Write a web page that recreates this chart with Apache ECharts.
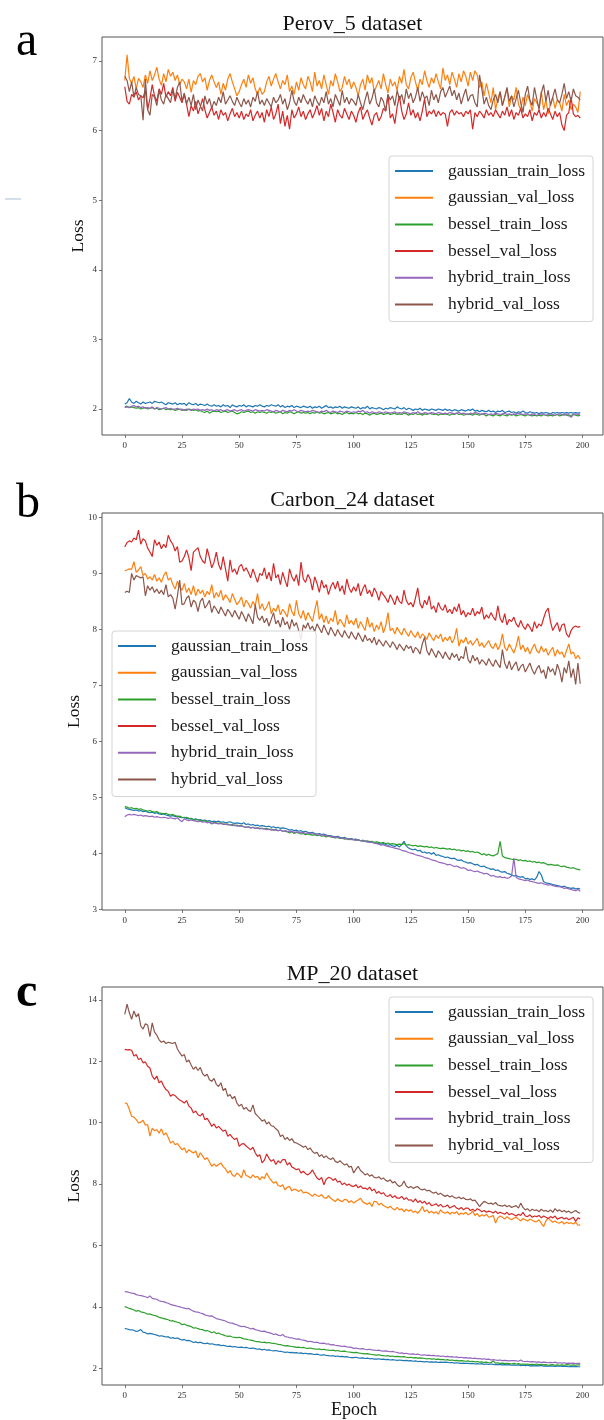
<!DOCTYPE html>
<html><head><meta charset="utf-8">
<script src="https://cdn.jsdelivr.net/npm/echarts@6/dist/echarts.min.js"></script>
<style>html,body{margin:0;padding:0;background:#fff}#c{width:604px;height:1420px}</style>
</head><body><div id="c"></div>
<script>
const seriesNames = ['gaussian_train_loss','gaussian_val_loss','bessel_train_loss','bessel_val_loss','hybrid_train_loss','hybrid_val_loss'];
const seriesColors = ['#1f77b4','#ff7f0e','#2ca02c','#d62728','#9467bd','#8c564b'];
const panelTitles = ['Perov_5 dataset','Carbon_24 dataset','MP_20 dataset'];
const panelLetters = ['a','b','c'];
const xTicks = [0,25,50,75,100,125,150,175,200];
const yTicksA = [2,3,4,5,6,7];
const yTicksB = [3,4,5,6,7,8,9,10];
const yTicksC = [2,4,6,8,10,12,14];
const epochs = Array.from({length:200},(_,i)=>i);

// ---- Panel a : Perov_5 ----
const A_gt = [
2.07,2.09,2.15,2.10,2.08,2.11,2.09,2.07,2.10,2.08,2.09,2.10,2.08,2.11,2.10,2.09,2.10,2.08,2.06,2.09,
2.08,2.07,2.09,2.06,2.08,2.07,2.08,2.05,2.09,2.07,2.06,2.08,2.05,2.07,2.06,2.05,2.07,2.05,2.04,2.06,
2.04,2.05,2.03,2.06,2.04,2.05,2.02,2.06,2.04,2.03,2.05,2.04,2.06,2.03,2.05,2.04,2.03,2.05,2.04,2.06,
2.04,2.03,2.05,2.04,2.06,2.05,2.04,2.06,2.03,2.05,2.02,2.04,2.03,2.05,2.02,2.04,2.03,2.02,2.04,2.03,
2.02,2.04,2.01,2.03,2.02,2.04,2.01,2.03,2.05,2.02,2.03,2.01,2.03,2.02,2.04,2.01,2.03,2.02,2.01,2.03,
2.02,2.01,2.03,2.00,2.02,2.01,2.04,2.00,2.02,2.01,2.00,2.02,2.01,1.99,2.01,2.00,2.02,2.01,2.00,2.03,
2.01,2.00,2.02,1.99,2.01,2.00,1.98,2.00,1.99,2.01,1.98,2.00,1.99,1.98,2.00,1.99,1.98,2.00,1.99,1.98,
2.00,1.98,1.99,1.97,1.99,1.98,1.97,1.99,1.98,1.97,1.99,1.98,2.00,1.97,1.98,1.96,1.98,1.97,1.96,1.98,
1.96,1.97,1.95,1.97,1.96,1.98,1.95,1.96,1.97,1.95,1.96,1.94,1.96,1.95,1.97,1.95,1.94,1.96,1.95,1.94,
1.95,1.93,1.95,1.94,1.95,1.94,1.93,1.95,1.94,1.95,1.94,1.95,1.94,1.95,1.94,1.95,1.94,1.95,1.94,1.95];
const A_gv = [
6.72,7.09,6.75,6.68,6.78,6.60,6.75,6.70,6.62,6.80,6.68,6.86,6.72,6.80,6.91,6.74,6.65,6.82,6.70,6.88,
6.78,6.84,6.72,6.80,6.66,6.74,6.70,6.60,6.74,6.55,6.72,6.66,6.78,6.82,6.70,6.76,6.58,6.72,6.80,6.70,
6.62,6.70,6.52,6.68,6.58,6.74,6.82,6.70,6.60,6.50,6.56,6.66,6.74,6.62,6.80,6.68,6.76,6.60,6.52,6.62,
6.52,6.56,6.70,6.78,6.64,6.74,6.82,6.70,6.60,6.72,6.66,6.80,6.56,6.64,6.52,6.70,6.58,6.76,6.66,6.60,
6.78,6.70,6.56,6.84,6.64,6.72,6.60,6.80,6.66,6.52,6.72,6.64,6.82,6.70,6.56,6.62,6.78,6.66,6.74,6.60,
6.70,6.62,6.50,6.66,6.74,6.58,6.80,6.68,6.76,6.56,6.64,6.72,6.60,6.82,6.66,6.54,6.74,6.64,6.70,6.58,
6.78,6.68,6.88,6.66,6.60,6.76,6.84,6.70,6.58,6.74,6.66,6.86,6.72,6.62,6.76,6.68,6.82,6.70,6.60,6.90,
6.72,6.80,6.66,6.84,6.74,6.62,6.82,6.70,6.86,6.78,6.64,6.84,6.72,6.86,6.80,6.62,6.70,6.50,6.68,6.54,
6.40,6.62,6.30,6.46,6.56,6.36,6.48,6.60,6.34,6.50,6.44,6.62,6.38,6.30,6.48,6.36,6.52,6.42,6.28,6.46,
6.40,6.34,6.56,6.30,6.44,6.24,6.38,6.48,6.32,6.44,6.40,6.28,6.52,6.36,6.44,6.30,6.38,6.34,6.26,6.56];
const A_bt = [
2.03,2.04,2.02,2.03,2.02,2.01,2.02,2.00,2.01,2.02,2.00,2.01,2.02,2.00,2.01,1.99,2.00,2.01,1.99,2.00,
1.99,2.00,1.98,1.99,2.00,1.98,1.99,1.98,2.00,1.99,1.98,1.99,1.97,1.98,1.96,1.95,1.97,1.94,1.96,1.97,
1.96,1.97,1.95,1.96,1.97,1.95,1.96,1.97,1.95,1.93,1.94,1.96,1.95,1.96,1.97,1.95,1.96,1.94,1.96,1.95,
1.96,1.95,1.94,1.96,1.95,1.96,1.94,1.95,1.96,1.93,1.95,1.94,1.96,1.95,1.93,1.95,1.96,1.94,1.95,1.94,
1.95,1.93,1.95,1.94,1.96,1.94,1.95,1.93,1.94,1.95,1.93,1.94,1.95,1.93,1.94,1.92,1.94,1.95,1.93,1.94,
1.93,1.95,1.93,1.94,1.92,1.94,1.93,1.91,1.93,1.94,1.92,1.93,1.94,1.92,1.93,1.94,1.92,1.93,1.94,1.92,
1.93,1.92,1.94,1.93,1.91,1.93,1.92,1.94,1.92,1.93,1.91,1.93,1.92,1.94,1.93,1.92,1.93,1.91,1.93,1.92,
1.93,1.92,1.91,1.93,1.92,1.94,1.92,1.93,1.91,1.92,1.93,1.92,1.91,1.93,1.92,1.91,1.93,1.92,1.90,1.92,
1.91,1.90,1.92,1.91,1.90,1.92,1.91,1.90,1.92,1.91,1.92,1.90,1.91,1.92,1.91,1.90,1.92,1.91,1.90,1.91,
1.90,1.91,1.90,1.92,1.91,1.90,1.91,1.90,1.91,1.92,1.90,1.91,1.92,1.91,1.90,1.91,1.92,1.91,1.90,1.91];
const A_bv = [
6.63,6.42,6.38,6.52,6.48,6.56,6.44,6.50,6.47,6.58,6.30,6.46,6.66,6.50,6.42,6.60,6.52,6.68,6.48,6.56,
6.50,6.62,6.42,6.55,6.48,6.40,6.52,6.38,6.20,6.36,6.28,6.42,6.24,6.34,6.46,6.30,6.18,6.26,6.34,6.22,
6.28,6.16,6.30,6.22,6.26,6.14,6.24,6.32,6.20,6.26,6.18,6.28,6.16,6.24,6.20,6.30,6.14,6.22,6.28,6.18,
6.26,6.12,6.30,6.20,6.34,6.16,6.24,6.38,6.10,6.28,6.06,6.22,6.02,6.30,6.18,6.24,6.34,6.20,6.28,6.16,
6.24,6.30,6.18,6.26,6.36,6.22,6.32,6.14,6.28,6.20,6.38,6.26,6.12,6.30,6.22,6.18,6.32,6.24,6.16,6.28,
6.22,6.12,6.26,6.34,6.16,6.24,6.30,6.18,6.08,6.22,6.26,6.14,6.20,6.32,6.28,6.52,6.18,6.24,6.10,6.34,
6.50,6.28,6.16,6.24,6.40,6.22,6.30,6.18,6.26,6.14,6.28,6.46,6.20,6.28,6.24,6.30,6.20,6.28,6.22,6.26,
6.24,6.06,6.26,6.30,6.22,6.28,6.24,6.26,6.20,6.28,6.24,6.30,6.02,6.26,6.20,6.28,6.24,6.18,6.30,6.22,
6.26,6.20,6.30,6.24,6.18,6.28,6.22,6.34,6.20,6.30,6.16,6.26,6.22,6.32,6.18,6.24,6.20,6.30,6.14,6.26,
6.22,6.30,6.18,6.26,6.20,6.32,6.24,6.16,6.28,6.20,6.26,6.08,6.00,6.22,6.26,6.48,6.24,6.20,6.22,6.18];
const A_ht = [
2.02,2.03,2.02,2.04,2.05,2.03,2.04,2.02,2.03,2.01,2.02,2.01,2.03,2.00,2.02,2.01,2.00,2.01,2.02,2.00,
2.01,1.99,2.00,2.01,1.99,2.00,1.98,2.00,1.99,1.98,2.00,1.99,2.00,1.98,1.99,1.98,2.00,1.98,1.99,1.97,
1.99,1.98,1.99,1.97,1.98,1.99,1.97,1.98,1.99,1.97,1.98,1.99,1.97,1.98,1.99,1.98,1.97,1.99,1.98,1.97,
1.98,1.97,1.99,1.98,1.97,1.96,1.98,1.97,1.96,1.98,1.97,1.96,1.98,1.97,1.99,1.97,1.96,1.98,1.97,1.96,
1.97,1.96,1.98,1.97,1.96,1.95,1.97,1.96,1.98,1.96,1.95,1.97,1.96,1.95,1.97,1.96,1.95,1.97,1.96,1.95,
1.96,1.95,1.97,1.96,1.98,1.95,1.96,1.94,1.96,1.95,1.94,1.96,1.95,1.94,1.96,1.95,1.94,1.95,1.96,1.94,
1.95,1.94,1.96,1.95,1.94,1.93,1.95,1.94,1.96,1.94,1.93,1.95,1.94,1.93,1.95,1.94,1.93,1.95,1.94,1.93,
1.94,1.93,1.95,1.94,1.93,1.94,1.95,1.93,1.94,1.93,1.92,1.94,1.93,1.95,1.94,1.93,1.92,1.94,1.93,1.92,
1.93,1.92,1.94,1.93,1.92,1.93,1.94,1.92,1.93,1.92,1.93,1.92,1.94,1.93,1.92,1.93,1.92,1.91,1.93,1.92,
1.91,1.92,1.93,1.92,1.91,1.92,1.93,1.92,1.91,1.92,1.93,1.92,1.91,1.93,1.92,1.88,1.92,1.93,1.92,1.93];
const A_hv = [
6.78,6.72,6.56,6.70,6.48,6.62,6.52,6.50,6.15,6.74,6.30,6.22,6.52,6.48,6.36,6.58,6.44,6.38,6.52,6.46,
6.40,6.58,6.46,6.62,6.70,6.42,6.54,6.38,6.48,6.36,6.52,6.30,6.44,6.36,6.28,6.50,6.38,6.46,6.32,6.42,
6.36,6.48,6.40,6.56,6.38,6.44,6.50,6.42,6.36,6.48,6.40,6.34,6.46,6.38,6.44,6.34,6.48,6.42,6.56,6.38,
6.44,6.36,6.46,6.40,6.34,6.48,6.40,6.44,6.52,6.38,6.46,6.30,6.40,6.58,6.42,6.36,6.48,6.40,6.52,6.44,
6.38,6.46,6.34,6.50,6.42,6.36,6.48,6.40,6.56,6.38,6.46,6.34,6.52,6.44,6.36,6.58,6.40,6.48,6.38,6.46,
6.42,6.36,6.52,6.40,6.30,6.44,6.56,6.38,6.46,6.60,6.40,6.34,6.48,6.42,6.28,6.52,6.44,6.50,6.36,6.58,
6.44,6.52,6.38,6.60,6.46,6.54,6.40,6.48,6.62,6.42,6.56,6.46,6.50,6.36,6.58,6.44,6.52,6.40,6.56,6.62,
6.48,6.56,6.64,6.50,6.58,6.44,6.54,6.38,6.50,6.60,6.42,6.50,6.52,6.40,6.34,6.80,6.60,6.38,6.48,6.36,
6.30,6.44,6.52,6.40,6.56,6.36,6.48,6.62,6.42,6.50,6.34,6.46,6.58,6.40,6.26,6.52,6.64,6.44,6.36,6.62,
6.46,6.30,6.54,6.66,6.42,6.58,6.36,6.48,6.60,6.44,6.40,6.52,6.68,6.46,6.56,6.42,6.60,6.50,6.48,6.44];

// ---- Panel b : Carbon_24 ----
const B_gt = [
4.82,4.80,4.79,4.78,4.77,4.78,4.76,4.77,4.75,4.76,4.74,4.73,4.74,4.72,4.73,4.71,4.70,4.71,4.69,4.68,
4.67,4.68,4.66,4.67,4.65,4.64,4.65,4.63,4.62,4.63,4.61,4.62,4.60,4.61,4.59,4.60,4.58,4.59,4.57,4.58,
4.57,4.58,4.56,4.57,4.55,4.56,4.57,4.55,4.54,4.55,4.54,4.53,4.55,4.52,4.53,4.51,4.52,4.50,4.51,4.49,
4.50,4.49,4.48,4.49,4.47,4.48,4.46,4.47,4.45,4.46,4.45,4.44,4.42,4.43,4.41,4.42,4.40,4.41,4.39,4.40,
4.38,4.37,4.38,4.36,4.35,4.36,4.34,4.35,4.33,4.32,4.32,4.31,4.30,4.31,4.29,4.28,4.29,4.27,4.26,4.27,
4.25,4.26,4.24,4.23,4.24,4.22,4.21,4.22,4.20,4.19,4.19,4.18,4.17,4.18,4.16,4.15,4.16,4.14,4.13,4.15,
4.12,4.16,4.22,4.14,4.10,4.08,4.07,4.08,4.05,4.06,4.02,4.03,4.01,4.02,3.99,4.02,3.97,3.98,3.96,3.95,
3.93,3.94,3.92,3.91,3.92,3.89,3.88,3.89,3.86,3.85,3.83,3.84,3.82,3.80,3.81,3.78,3.77,3.78,3.75,3.74,
3.72,3.73,3.70,3.71,3.68,3.67,3.68,3.65,3.64,3.62,3.60,3.61,3.59,3.58,3.59,3.55,3.56,3.54,3.55,3.53,
3.58,3.68,3.62,3.50,3.48,3.47,3.46,3.45,3.44,3.43,3.42,3.41,3.42,3.40,3.39,3.38,3.39,3.37,3.38,3.37];
const B_gv = [
9.05,9.06,9.08,9.07,9.21,9.02,9.06,9.12,8.96,9.00,8.90,8.94,8.88,8.98,8.86,8.92,8.84,8.96,9.03,8.88,
8.92,8.80,8.72,8.86,8.76,8.70,8.82,8.66,8.74,8.62,8.78,8.60,8.72,8.64,8.70,8.58,8.68,8.62,8.80,8.56,
8.66,8.58,8.70,8.52,8.62,8.56,8.48,8.64,8.54,8.44,8.50,8.58,8.40,8.52,8.46,8.38,8.50,8.42,8.64,8.36,
8.46,8.34,8.40,8.50,8.28,8.38,8.32,8.44,8.26,8.36,8.30,8.22,8.46,8.32,8.24,8.52,8.28,8.20,8.34,8.16,
8.30,8.22,8.14,8.34,8.52,8.18,8.28,8.12,8.24,8.10,8.20,8.14,8.34,8.08,8.18,8.12,8.04,8.26,8.10,8.16,
8.08,8.20,8.02,8.14,8.06,7.98,8.22,8.04,8.12,7.96,8.08,8.00,8.14,7.94,8.06,8.30,7.98,8.02,7.92,8.04,
7.96,7.90,8.02,7.94,7.88,7.98,7.90,7.86,7.96,7.84,7.92,7.88,7.82,7.94,7.86,7.80,7.90,7.84,7.92,7.78,
7.86,7.80,7.88,7.76,7.84,8.02,7.70,7.82,7.76,7.86,7.74,7.80,7.72,7.78,7.84,7.70,7.76,7.68,7.74,7.80,
7.70,7.66,7.76,7.64,7.72,7.92,7.68,7.62,7.74,7.66,7.58,7.70,7.88,7.64,7.72,7.60,7.68,7.56,7.66,7.74,
7.62,7.58,7.70,7.60,7.66,7.54,7.62,7.68,7.52,7.64,7.56,7.60,7.50,7.62,7.74,7.56,7.60,7.48,7.54,7.47];
const B_bt = [
4.84,4.83,4.81,4.82,4.80,4.81,4.79,4.80,4.78,4.77,4.76,4.77,4.75,4.74,4.75,4.73,4.72,4.71,4.72,4.70,
4.69,4.70,4.68,4.66,4.67,4.65,4.64,4.65,4.63,4.62,4.61,4.60,4.61,4.59,4.58,4.59,4.57,4.56,4.53,4.56,
4.55,4.54,4.55,4.53,4.52,4.53,4.51,4.52,4.50,4.51,4.49,4.50,4.48,4.47,4.48,4.46,4.47,4.45,4.46,4.45,
4.45,4.44,4.45,4.43,4.44,4.42,4.43,4.41,4.42,4.40,4.40,4.39,4.37,4.39,4.36,4.38,4.37,4.35,4.36,4.34,
4.35,4.34,4.33,4.34,4.32,4.33,4.31,4.32,4.30,4.31,4.30,4.29,4.28,4.29,4.27,4.28,4.26,4.27,4.25,4.26,
4.25,4.24,4.25,4.23,4.24,4.22,4.23,4.21,4.22,4.20,4.21,4.20,4.19,4.20,4.18,4.19,4.17,4.18,4.17,4.16,
4.17,4.16,4.18,4.15,4.16,4.15,4.14,4.15,4.13,4.14,4.13,4.12,4.13,4.11,4.12,4.10,4.11,4.10,4.09,4.10,
4.09,4.08,4.09,4.07,4.08,4.06,4.07,4.05,4.06,4.04,4.05,4.03,4.04,4.02,4.03,4.01,3.98,4.00,3.97,3.99,
3.97,3.96,3.98,4.00,4.22,3.96,3.93,3.92,3.91,3.90,3.89,3.90,3.88,3.89,3.87,3.88,3.86,3.87,3.85,3.86,
3.84,3.85,3.83,3.84,3.82,3.80,3.81,3.80,3.79,3.80,3.78,3.77,3.78,3.76,3.75,3.74,3.75,3.73,3.72,3.71];
const B_bv = [
9.47,9.55,9.58,9.56,9.63,9.60,9.77,9.52,9.62,9.58,9.45,9.38,9.30,9.60,9.50,9.56,9.44,9.52,9.46,9.68,
9.58,9.52,9.40,9.48,9.20,9.22,9.30,9.42,9.28,9.05,9.38,9.42,9.46,9.30,9.22,9.18,9.44,9.28,9.10,9.20,
9.38,9.16,9.06,9.30,9.08,8.86,9.24,9.02,9.08,8.98,9.12,9.16,9.04,9.10,9.02,8.92,9.08,8.96,8.84,9.00,
8.96,9.10,8.90,9.02,8.86,9.18,8.92,8.98,8.80,9.02,8.88,8.76,9.08,8.94,8.86,8.98,8.78,9.20,8.90,8.84,
8.98,8.90,8.70,8.94,8.82,8.66,8.88,8.74,8.80,8.62,8.76,8.84,8.72,8.86,8.68,8.78,8.62,8.90,8.74,8.66,
8.76,8.68,8.82,8.60,8.72,8.80,8.64,8.70,8.58,8.74,8.66,8.52,8.68,8.62,8.56,8.48,8.62,8.54,8.44,8.60,
8.50,8.46,8.70,8.52,8.44,8.48,8.40,8.56,8.74,8.46,8.38,8.52,8.44,8.60,8.36,8.42,8.30,8.48,8.38,8.34,
8.44,8.30,8.36,8.28,8.40,8.32,8.46,8.26,8.34,8.22,8.30,8.26,8.38,8.24,8.32,8.28,8.40,8.18,8.26,8.20,
8.30,8.22,8.16,8.42,8.20,8.12,8.28,8.08,8.18,8.14,8.22,8.10,8.04,8.16,8.06,8.00,8.10,8.04,7.96,8.14,
8.02,8.10,8.06,8.20,8.32,8.38,8.14,7.98,8.06,8.12,7.96,8.08,8.10,7.92,7.86,7.98,8.04,8.06,8.04,8.05];
const B_ht = [
4.66,4.69,4.70,4.69,4.70,4.69,4.68,4.69,4.67,4.68,4.67,4.66,4.67,4.65,4.66,4.65,4.64,4.65,4.64,4.63,
4.64,4.63,4.62,4.64,4.60,4.57,4.62,4.60,4.59,4.60,4.59,4.58,4.57,4.58,4.56,4.57,4.55,4.56,4.54,4.55,
4.54,4.53,4.54,4.52,4.53,4.51,4.52,4.50,4.51,4.49,4.50,4.49,4.48,4.47,4.48,4.46,4.47,4.45,4.46,4.44,
4.45,4.44,4.43,4.44,4.42,4.43,4.42,4.41,4.42,4.40,4.41,4.40,4.39,4.40,4.38,4.39,4.38,4.37,4.38,4.36,
4.37,4.36,4.35,4.36,4.34,4.33,4.34,4.32,4.33,4.31,4.31,4.30,4.29,4.30,4.28,4.27,4.28,4.26,4.27,4.25,
4.25,4.24,4.25,4.23,4.22,4.23,4.21,4.20,4.21,4.19,4.18,4.17,4.15,4.16,4.14,4.13,4.12,4.11,4.10,4.09,
4.08,4.06,4.05,4.04,4.02,4.01,4.00,3.98,3.97,3.96,3.95,3.93,3.92,3.91,3.89,3.88,3.87,3.85,3.84,3.83,
3.82,3.80,3.81,3.79,3.77,3.78,3.76,3.74,3.75,3.73,3.70,3.71,3.69,3.68,3.69,3.67,3.66,3.64,3.65,3.63,
3.60,3.61,3.59,3.58,3.59,3.57,3.58,3.56,3.57,3.60,3.92,3.58,3.55,3.54,3.53,3.52,3.53,3.51,3.50,3.49,
3.48,3.47,3.48,3.46,3.45,3.44,3.45,3.43,3.42,3.41,3.41,3.40,3.38,3.39,3.37,3.36,3.35,3.34,3.36,3.33];
const B_hv = [
8.66,8.68,8.66,9.00,8.88,8.96,8.94,8.92,8.94,8.60,8.78,8.70,8.76,8.66,8.72,8.64,8.70,8.62,8.80,8.58,
8.62,8.56,8.36,8.60,8.88,8.44,8.46,8.56,8.60,8.40,8.52,8.48,8.32,8.50,8.56,8.38,8.44,8.52,8.30,8.42,
8.36,8.28,8.40,8.32,8.24,8.36,8.30,8.22,8.34,8.26,8.18,8.32,8.24,8.14,8.28,8.20,8.10,8.44,8.22,8.16,
8.24,8.12,8.20,8.06,8.18,8.30,8.10,8.16,8.04,8.22,8.08,8.14,8.00,8.18,8.06,8.12,7.98,7.82,8.08,8.02,
8.12,8.00,8.06,7.96,8.10,8.02,7.94,8.08,7.98,7.90,8.04,7.96,7.88,8.00,7.92,7.86,7.98,7.90,7.84,7.96,
7.88,7.82,7.94,7.86,7.78,7.90,7.80,7.84,7.76,7.86,7.72,7.82,7.76,7.70,7.80,7.74,7.68,7.78,7.72,7.64,
7.74,7.68,7.62,7.72,7.66,7.70,7.58,7.68,7.64,7.56,7.74,7.86,7.62,7.54,7.66,7.58,7.50,7.62,7.56,7.48,
7.60,7.52,7.46,7.58,7.50,7.56,7.44,7.52,7.48,7.70,7.46,7.40,7.54,7.44,7.50,7.38,7.46,7.42,7.36,7.48,
7.40,7.34,7.46,7.38,7.32,7.64,7.40,7.30,7.44,7.28,7.36,7.42,7.26,7.34,7.38,7.24,7.32,7.40,7.28,7.20,
7.30,7.36,7.22,7.28,7.12,7.34,7.24,7.30,7.18,7.38,7.26,7.06,7.32,7.22,7.44,7.14,7.30,7.02,7.40,7.03];

// ---- Panel c : MP_20 ----
const C_gt = [
3.30,3.28,3.26,3.25,3.24,3.20,3.22,3.26,3.18,3.16,3.12,3.14,3.12,3.10,3.08,3.05,3.06,3.04,3.02,3.03,
2.98,3.00,2.97,2.99,2.95,2.92,2.94,2.90,2.91,2.88,2.84,2.86,2.83,2.85,2.82,2.80,2.82,2.79,2.80,2.78,
2.76,2.77,2.74,2.75,2.73,2.71,2.72,2.70,2.71,2.69,2.68,2.69,2.67,2.68,2.66,2.65,2.66,2.64,2.62,2.63,
2.60,2.62,2.59,2.60,2.58,2.57,2.58,2.56,2.55,2.54,2.52,2.53,2.51,2.52,2.50,2.51,2.49,2.50,2.48,2.49,
2.47,2.48,2.46,2.45,2.46,2.44,2.43,2.44,2.42,2.41,2.40,2.41,2.39,2.40,2.38,2.39,2.37,2.38,2.36,2.35,
2.35,2.36,2.34,2.33,2.34,2.32,2.33,2.31,2.32,2.30,2.30,2.31,2.29,2.30,2.28,2.29,2.27,2.28,2.27,2.26,
2.27,2.26,2.25,2.26,2.24,2.25,2.23,2.24,2.22,2.23,2.22,2.21,2.22,2.20,2.21,2.20,2.21,2.19,2.20,2.19,
2.20,2.19,2.18,2.19,2.17,2.18,2.17,2.16,2.17,2.16,2.16,2.15,2.16,2.14,2.15,2.14,2.15,2.13,2.14,2.13,
2.14,2.13,2.12,2.13,2.12,2.11,2.12,2.11,2.12,2.10,2.11,2.10,2.11,2.09,2.10,2.09,2.10,2.08,2.09,2.08,
2.09,2.08,2.09,2.07,2.08,2.07,2.08,2.07,2.06,2.07,2.08,2.06,2.07,2.06,2.05,2.06,2.05,2.06,2.05,2.05];
const C_gv = [
10.65,10.62,10.43,10.21,10.18,10.10,9.99,10.02,10.08,9.92,9.94,9.56,9.82,9.74,9.78,9.66,9.80,9.60,9.67,9.52,
9.34,9.40,9.28,9.32,9.22,9.12,9.18,9.02,9.12,9.06,9.01,9.08,8.86,9.02,8.92,8.80,8.86,8.72,8.58,8.66,
8.58,8.64,8.69,8.56,8.50,8.36,8.44,8.30,8.25,8.36,8.30,8.20,8.47,8.28,8.25,8.20,8.30,8.22,8.25,8.14,
8.24,8.18,8.36,8.22,8.12,8.03,8.08,7.96,7.92,7.98,7.81,7.90,7.92,7.78,7.84,7.81,7.76,7.82,7.71,7.74,
7.71,7.66,7.60,7.68,7.62,7.60,7.66,7.56,7.54,7.62,7.54,7.48,7.43,7.52,7.46,7.43,7.50,7.49,7.40,7.46,
7.38,7.44,7.48,7.54,7.42,7.38,7.34,7.40,7.27,7.44,7.42,7.32,7.38,7.30,7.26,7.22,7.28,7.20,7.16,7.24,
7.16,7.20,7.10,7.18,7.12,7.16,7.08,7.12,7.05,7.14,7.27,7.10,7.16,7.06,7.12,7.05,7.10,7.02,7.16,7.08,
7.05,7.10,7.02,7.08,7.04,7.10,7.00,7.06,7.02,7.08,7.00,7.04,7.12,6.98,7.04,6.94,7.00,6.96,7.02,6.92,
6.94,6.98,6.73,6.90,6.96,6.92,6.86,6.94,6.88,6.84,6.89,6.92,6.86,6.80,6.88,6.84,6.80,6.86,6.82,6.78,
6.78,6.84,6.72,6.62,6.80,6.89,6.82,6.76,6.80,6.74,6.73,6.78,6.70,6.76,6.72,6.74,6.70,6.76,6.66,6.67];
const C_bt = [
4.01,3.98,3.95,3.93,3.90,3.86,3.88,3.84,3.82,3.80,3.76,3.77,3.74,3.72,3.70,3.66,3.64,3.62,3.60,3.58,
3.54,3.55,3.52,3.50,3.48,3.42,3.44,3.40,3.38,3.36,3.31,3.32,3.29,3.27,3.26,3.22,3.23,3.20,3.16,3.19,
3.13,3.15,3.11,3.09,3.06,3.04,3.05,3.02,3.01,3.00,3.01,2.99,2.96,2.95,2.93,2.92,2.90,2.88,2.87,2.86,
2.84,2.85,2.83,2.84,2.82,2.81,2.80,2.78,2.77,2.75,2.73,2.74,2.72,2.71,2.70,2.68,2.69,2.67,2.68,2.66,
2.65,2.66,2.64,2.63,2.62,2.63,2.61,2.62,2.60,2.59,2.58,2.59,2.57,2.58,2.56,2.55,2.56,2.54,2.53,2.52,
2.51,2.52,2.50,2.49,2.48,2.47,2.48,2.46,2.45,2.44,2.43,2.44,2.42,2.41,2.40,2.41,2.39,2.40,2.38,2.39,
2.38,2.37,2.38,2.36,2.35,2.36,2.34,2.35,2.33,2.34,2.33,2.32,2.31,2.32,2.30,2.31,2.29,2.30,2.28,2.29,
2.27,2.28,2.26,2.27,2.25,2.26,2.24,2.25,2.24,2.23,2.24,2.22,2.23,2.21,2.22,2.20,2.21,2.19,2.20,2.18,
2.18,2.24,2.17,2.18,2.16,2.17,2.15,2.16,2.15,2.14,2.16,2.14,2.15,2.13,2.14,2.13,2.14,2.12,2.13,2.12,
2.14,2.12,2.13,2.11,2.12,2.10,2.11,2.12,2.10,2.11,2.10,2.11,2.10,2.12,2.11,2.10,2.11,2.10,2.11,2.11];
const C_bv = [
12.39,12.37,12.38,12.36,12.17,12.22,12.06,12.10,11.95,11.98,11.84,11.78,11.52,11.41,11.52,11.30,11.36,11.19,11.08,11.02,
10.86,10.92,10.88,10.80,10.74,10.70,10.64,10.72,10.54,10.48,10.32,10.38,10.26,10.22,10.30,10.10,10.14,10.02,9.88,9.96,
9.83,9.88,9.80,9.72,9.76,9.56,9.62,9.52,9.45,9.50,9.23,9.30,9.32,9.24,9.18,9.12,9.20,9.02,8.90,8.96,
8.69,8.78,8.98,8.84,8.74,8.80,8.64,8.76,8.69,8.80,8.80,8.62,8.70,8.56,8.52,8.47,8.50,8.36,8.42,8.34,
8.30,8.36,8.46,8.32,8.20,8.14,8.22,7.98,8.16,8.22,8.20,8.12,8.18,8.06,8.10,7.98,8.04,7.96,8.00,7.94,
7.92,7.98,7.88,7.94,7.86,7.87,7.82,7.90,7.78,7.84,7.70,7.76,7.68,7.72,7.62,7.60,7.66,7.56,7.62,7.54,
7.54,7.60,7.50,7.56,7.48,7.49,7.42,7.52,7.40,7.46,7.38,7.44,7.34,7.40,7.30,7.32,7.36,7.28,7.34,7.26,
7.27,7.32,7.22,7.26,7.30,7.22,7.18,7.24,7.16,7.22,7.22,7.14,7.18,7.12,7.20,7.16,7.10,7.14,7.08,7.12,
7.10,7.06,7.12,7.04,7.08,7.05,7.02,7.08,7.00,7.04,7.00,6.96,7.02,6.98,7.08,6.96,6.94,7.00,6.92,6.96,
6.94,6.98,6.90,6.96,6.92,6.88,6.94,6.90,6.96,6.86,6.89,6.92,6.86,6.90,6.84,6.88,6.92,6.78,6.90,6.86];
const C_ht = [
4.50,4.49,4.47,4.45,4.44,4.40,4.38,4.37,4.35,4.33,4.30,4.36,4.28,4.26,4.25,4.20,4.18,4.17,4.14,4.12,
4.08,4.06,4.04,4.02,4.00,3.98,3.96,3.94,3.95,3.90,3.86,3.84,3.83,3.80,3.78,3.74,3.72,3.70,3.71,3.66,
3.62,3.60,3.58,3.56,3.54,3.50,3.48,3.47,3.44,3.42,3.38,3.36,3.37,3.34,3.32,3.28,3.30,3.26,3.24,3.22,
3.20,3.21,3.18,3.16,3.14,3.10,3.12,3.08,3.06,3.10,3.03,3.02,3.00,2.99,2.97,2.95,2.96,2.93,2.92,2.90,
2.87,2.88,2.86,2.84,2.85,2.82,2.81,2.82,2.79,2.80,2.76,2.77,2.75,2.74,2.73,2.71,2.72,2.70,2.69,2.68,
2.65,2.66,2.64,2.63,2.64,2.62,2.61,2.62,2.60,2.59,2.58,2.59,2.57,2.56,2.57,2.55,2.54,2.55,2.53,2.52,
2.49,2.50,2.48,2.49,2.47,2.46,2.47,2.45,2.46,2.44,2.43,2.44,2.42,2.43,2.41,2.42,2.40,2.41,2.39,2.40,
2.38,2.39,2.37,2.38,2.36,2.37,2.35,2.36,2.34,2.35,2.33,2.34,2.32,2.33,2.31,2.32,2.30,2.31,2.29,2.30,
2.27,2.28,2.27,2.26,2.27,2.25,2.26,2.25,2.24,2.25,2.25,2.24,2.23,2.27,2.23,2.22,2.23,2.21,2.22,2.21,
2.20,2.21,2.19,2.20,2.19,2.18,2.19,2.18,2.20,2.17,2.18,2.17,2.18,2.16,2.17,2.16,2.17,2.15,2.16,2.16];
const C_hv = [
13.53,13.86,13.58,13.37,13.64,13.45,13.55,13.15,13.05,13.22,13.18,12.80,13.25,12.95,12.85,12.70,12.62,12.66,12.58,12.62,
12.60,12.58,12.62,12.40,12.28,12.17,12.22,11.98,12.04,11.88,11.74,11.82,11.70,11.80,11.60,11.52,11.58,11.40,11.35,11.44,
11.25,11.18,11.30,11.05,11.12,10.86,10.92,10.78,10.86,10.64,10.54,10.60,10.44,10.50,10.40,10.37,10.58,10.30,10.22,10.14,
10.05,10.10,9.96,10.02,9.90,9.88,9.80,9.74,9.55,9.60,9.45,9.52,9.42,9.48,9.36,9.34,9.30,9.26,9.20,9.24,
9.12,9.18,9.06,9.00,9.04,8.90,8.96,8.86,8.92,8.84,8.80,8.86,8.74,8.70,8.76,8.69,8.62,8.66,8.55,8.58,
8.36,8.48,8.58,8.44,8.38,8.30,8.34,8.26,8.30,8.22,8.20,8.24,8.16,8.20,8.12,8.09,8.14,8.04,8.08,7.98,
7.92,7.96,8.10,7.94,7.88,7.92,7.86,7.90,7.92,7.84,7.81,7.84,7.78,7.80,7.74,7.70,7.74,7.66,7.70,7.64,
7.60,7.64,7.58,7.62,7.56,7.54,7.58,7.52,7.56,7.50,7.49,7.52,7.46,7.48,7.38,7.27,7.36,7.44,7.40,7.36,
7.38,7.34,7.40,7.32,7.30,7.28,7.32,7.26,7.30,7.24,7.27,7.30,7.22,7.38,7.24,7.16,7.20,7.12,7.18,7.14,
7.16,7.10,7.18,7.12,7.14,7.10,7.16,7.08,7.20,7.12,7.16,7.10,7.14,7.08,7.12,7.06,7.10,7.14,7.08,7.05];

const panelData = [
  [A_gt, A_gv, A_bt, A_bv, A_ht, A_hv],
  [B_gt, B_gv, B_bt, B_bv, B_ht, B_hv],
  [C_gt, C_gv, C_bt, C_bv, C_ht, C_hv]
];
const yTicks = [yTicksA, yTicksB, yTicksC];
const yRange = [[1.626, 7.345], [2.995, 10.077], [1.456, 14.42]];

const SERIF = '"Liberation Serif","Times New Roman",serif';
const gridTops = [37, 513, 987];
const gridHeights = [398, 397, 398];
const legendPos = [[389, 156], [112, 631], [389, 997]];
const titleY = [24, 500, 974];
const letterY = [42, 504, 994];
const lossX = [78, 74, 74];

const chart = echarts.init(document.getElementById('c'), null, {renderer: 'canvas'});

const grids = [], xAxes = [], yAxes = [], series = [], legends = [], graphics = [];
for (let p = 0; p < 3; p++) {
  grids.push({left: 102, top: gridTops[p], width: 501, height: gridHeights[p], show: true,
    borderColor: '#555', borderWidth: 1, backgroundColor: 'transparent', containLabel: false});
  xAxes.push({type: 'value', gridIndex: p, position: 'bottom', min: -9.95, max: 208.95,
    splitLine: {show: false}, axisLine: {show: false, onZero: false},
    axisTick: {show: true, customValues: xTicks, length: 3, lineStyle: {color: '#555', width: 0.8}},
    axisLabel: {customValues: xTicks, fontFamily: SERIF, fontSize: 9, color: '#333', margin: 6}});
  yAxes.push({type: 'value', gridIndex: p, position: 'left', min: yRange[p][0], max: yRange[p][1],
    splitLine: {show: false}, axisLine: {show: false, onZero: false},
    axisTick: {show: true, customValues: yTicks[p], length: 3, lineStyle: {color: '#555', width: 0.8}},
    axisLabel: {customValues: yTicks[p], fontFamily: SERIF, fontSize: 9, color: '#333', margin: 5}});
  for (let j = 0; j < 6; j++) {
    const vals = panelData[p][j];
    series.push({type: 'line', name: seriesNames[j], xAxisIndex: p, yAxisIndex: p,
      data: vals.map((v, i) => [epochs[i], v]), symbol: 'none', showSymbol: false,
      lineStyle: {width: 1.2, color: seriesColors[j]}, itemStyle: {color: seriesColors[j]},
      emphasis: {disabled: true}, z: 2 + j, animation: false});
  }
  legends.push({data: seriesNames, orient: 'vertical', left: legendPos[p][0], top: legendPos[p][1],
    icon: 'rect', itemWidth: 38, itemHeight: 2, itemGap: 8.7, selectedMode: false,
    textStyle: {fontFamily: SERIF, fontSize: 17.5, color: '#1a1a1a', lineHeight: 17, padding: [0, 0, 0, 10]},
    backgroundColor: 'rgba(255,255,255,0.85)', borderColor: '#d4d4d4', borderWidth: 1, borderRadius: 3,
    padding: [6, 8, 8, 6], z: 10});
  graphics.push({type: 'text', x: 352.5, y: titleY[p], style: {text: panelTitles[p],
    font: '22px ' + SERIF, fill: '#111', align: 'center', verticalAlign: 'middle'}});
  graphics.push({type: 'text', x: 16, y: letterY[p], style: {text: panelLetters[p],
    font: (p === 2 ? 'bold ' : '') + '48px ' + SERIF, fill: '#000', align: 'left', verticalAlign: 'middle'}});
  graphics.push({type: 'text', x: lossX[p], y: gridTops[p] + gridHeights[p] / 2, rotation: Math.PI / 2,
    style: {text: 'Loss', font: '17.5px ' + SERIF, fill: '#111', align: 'center', verticalAlign: 'middle'}});
}
graphics.push({type: 'text', x: 354, y: 1410, style: {text: 'Epoch', font: '18px ' + SERIF, fill: '#111',
  align: 'center', verticalAlign: 'middle'}});
graphics.push({type: 'line', shape: {x1: 5, y1: 199, x2: 21, y2: 199}, style: {stroke: '#a9bedc', lineWidth: 1}});

chart.setOption({
  backgroundColor: '#fff',
  animation: false,
  grid: grids, xAxis: xAxes, yAxis: yAxes, series: series, legend: legends, graphic: graphics
});

const bad = panelData.flat().map(a => a.length).filter(n => n !== 200);
if (bad.length) throw new Error('length mismatch: ' + bad.join(','));
</script></body></html>
